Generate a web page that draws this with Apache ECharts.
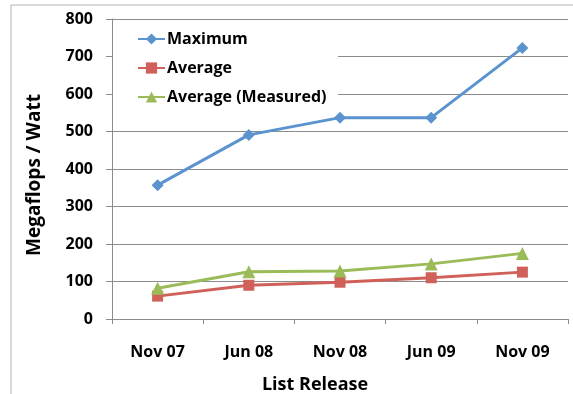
<!DOCTYPE html>
<html>
<head>
<meta charset="utf-8">
<script src="https://cdn.jsdelivr.net/npm/echarts@6/dist/echarts.min.js"></script>
<style>
  html, body { margin: 0; padding: 0; background: #fff; }
  #chart { width: 573px; height: 394px; }
</style>
</head>
<body>
<div id="chart"></div>
<script>
// TOP500 list releases and power efficiency (Megaflops per Watt)
const releases = ['Nov 07', 'Jun 08', 'Nov 08', 'Jun 09', 'Nov 09'];
const maximum = [357, 491, 537, 537, 723];
const average = [61, 90, 98, 110, 125];
const averageMeasured = [82, 126, 128, 147, 175];
const yTicks = [0, 100, 200, 300, 400, 500, 600, 700, 800];

const font = '"Open Sans", Lato, sans-serif';
const weight = 'bold';
const gridColor = '#8c8c8c';

const chart = echarts.init(document.getElementById('chart'), null, { renderer: 'canvas' });

function lineSeries(name, data, color, symbol, size) {
  return {
    name: name,
    type: 'line',
    data: data,
    symbol: symbol,
    symbolSize: size,
    showAllSymbol: true,
    lineStyle: { color: color, width: 3 },
    itemStyle: { color: color },
    emphasis: { disabled: true },
    z: 3
  };
}

chart.setOption({
  animation: false,
  backgroundColor: '#fff',
  graphic: [{
    type: 'rect',
    shape: { x: 11, y: 5, width: 580, height: 420 },
    style: { fill: 'none', stroke: '#b4b4b4', lineWidth: 1 },
    silent: true,
    z: 0
  }, {
    type: 'rect',
    shape: { x: 113, y: 22, width: 225, height: 88 },
    style: { fill: '#fff' },
    silent: true,
    z: 2
  }],
  grid: { left: 112, right: 5, top: 19, bottom: 75, containLabel: false, outerBoundsMode: 'none' },
  legend: {
    left: 132,
    top: 26,
    orient: 'vertical',
    itemGap: 13,
    itemWidth: 27,
    itemHeight: 14,
    z: 5,
    textStyle: { fontFamily: font, fontWeight: weight, fontSize: 16, color: '#000', padding: [0, 0, 0, -3] },
    data: ['Maximum', 'Average', 'Average (Measured)']
  },
  xAxis: {
    type: 'category',
    data: releases,
    boundaryGap: true,
    name: 'List Release',
    nameLocation: 'middle',
    nameGap: 57,
    nameTextStyle: { fontFamily: font, fontWeight: weight, fontSize: 18, color: '#000', padding: [0, 50, 0, 0] },
    axisLine: { lineStyle: { color: gridColor, width: 1 } },
    axisTick: { show: true, length: 5, alignWithLabel: false, lineStyle: { color: gridColor } },
    axisLabel: { fontFamily: font, fontWeight: weight, fontSize: 16, color: '#000', margin: 25 }
  },
  yAxis: {
    type: 'value',
    min: yTicks[0],
    max: yTicks[yTicks.length - 1],
    interval: 100,
    name: 'Megaflops / Watt',
    nameLocation: 'middle',
    nameGap: 68,
    nameTextStyle: { fontFamily: font, fontWeight: weight, fontSize: 19, color: '#000', padding: [0, 12, 0, 0] },
    axisLine: { show: true, lineStyle: { color: gridColor, width: 1 } },
    axisTick: { show: true, length: 6, lineStyle: { color: gridColor } },
    splitLine: { show: true, lineStyle: { color: gridColor, width: 1 } },
    axisLabel: { fontFamily: font, fontWeight: weight, fontSize: 16, color: '#000', margin: 19 }
  },
  series: [
    lineSeries('Maximum', maximum, '#5b93cf', 'diamond', 12),
    lineSeries('Average', average, '#d0605a', 'rect', 11),
    lineSeries('Average (Measured)', averageMeasured, '#9bbb59', 'triangle', 13)
  ]
});
</script>
</body>
</html>
